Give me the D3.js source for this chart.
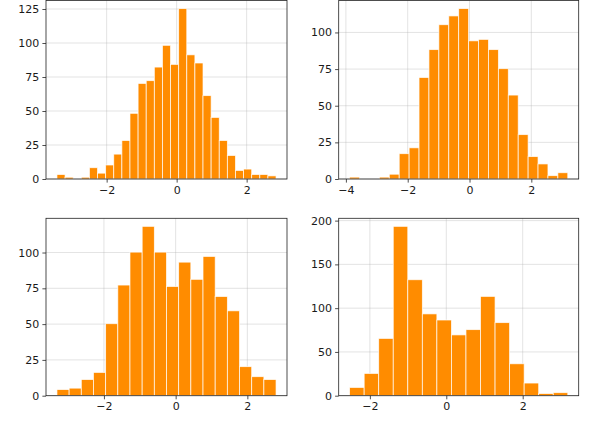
<!DOCTYPE html>
<html>
<head>
<meta charset="utf-8">
<script src="https://cdn.jsdelivr.net/npm/d3@7"></script>
<style>
  body { margin: 0; background: #fff; }
  svg { display: block; }
  text { font-family: "DejaVu Sans", sans-serif; font-size: 11px; fill: #1a1a1a; }
</style>
</head>
<body>
<script>
// histogram counts per panel
var countsA = [3, 1, 0, 1, 8, 4, 10, 18, 28, 48, 70, 72, 82, 98, 84, 125, 91, 85, 61, 45, 28, 17, 6, 7, 3, 3, 2];
var countsB = [1, 0, 0, 1, 3, 17, 21, 69, 88, 105, 111, 116, 94, 95, 88, 75, 57, 30, 15, 10, 2, 4];
var countsC = [4, 5, 11, 16, 50, 77, 100, 118, 100, 76, 93, 81, 97, 69, 59, 20, 13, 11];
var countsD = [9, 25, 65, 193, 132, 93, 86, 69, 75, 113, 83, 36, 14, 2, 3];

// first and last bin edge of each histogram
var rangeA = [-3.42, 2.84];
var rangeB = [-3.88, 3.18];
var rangeC = [-3.31, 2.80];
var rangeD = [-2.53, 3.18];

// tick labels
var xTicksA = [-2, 0, 2];
var xTicksB = [-4, -2, 0, 2];
var xTicksC = [-2, 0, 2];
var xTicksD = [-2, 0, 2];
var yTicksA = [0, 25, 50, 75, 100, 125];
var yTicksB = [0, 25, 50, 75, 100];
var yTicksC = [0, 25, 50, 75, 100];
var yTicksD = [0, 50, 100, 150, 200];

var width = 592;
var height = 423;
var barColor = '#ff8c00';

var svg = d3.select('body').append('svg')
  .attr('width', width)
  .attr('height', height);

var panels = [
  { counts: countsA, range: rangeA, xTicks: xTicksA, yTicks: yTicksA, box: [46, 287, 0.5, 179] },
  { counts: countsB, range: rangeB, xTicks: xTicksB, yTicks: yTicksB, box: [338.7, 578.7, 0.5, 179] },
  { counts: countsC, range: rangeC, xTicks: xTicksC, yTicks: yTicksC, box: [46, 287, 218.3, 395.7] },
  { counts: countsD, range: rangeD, xTicks: xTicksD, yTicks: yTicksD, box: [338.7, 578.7, 218.3, 395.7] }
];

var fmt = d3.format('d');

panels.forEach(function (p) {
  var x0 = p.box[0], x1 = p.box[1], y0 = p.box[2], y1 = p.box[3];
  var n = p.counts.length;
  var step = (p.range[1] - p.range[0]) / n;
  var bins = p.counts.map(function (c, i) {
    return { lo: p.range[0] + i * step, hi: p.range[0] + (i + 1) * step, count: c };
  });

  // matplotlib style 5% margins on x, 5% headroom on y
  var pad = (p.range[1] - p.range[0]) * 0.05;
  var x = d3.scaleLinear()
    .domain([p.range[0] - pad, p.range[1] + pad])
    .range([x0, x1]);
  var y = d3.scaleLinear()
    .domain([0, d3.max(p.counts) * 1.05])
    .range([y1, y0]);

  var g = svg.append('g');

  // grid first so the bars sit over it
  g.selectAll('.gx').data(p.xTicks).enter().append('line')
    .attr('x1', function (d) { return x(d); })
    .attr('x2', function (d) { return x(d); })
    .attr('y1', y0).attr('y2', y1)
    .attr('stroke', '#b0b0b0').attr('stroke-opacity', 0.45).attr('stroke-width', 0.8);
  g.selectAll('.gy').data(p.yTicks).enter().append('line')
    .attr('x1', x0).attr('x2', x1)
    .attr('y1', function (d) { return y(d); })
    .attr('y2', function (d) { return y(d); })
    .attr('stroke', '#b0b0b0').attr('stroke-opacity', 0.45).attr('stroke-width', 0.8);

  g.selectAll('.bar').data(bins.filter(function (b) { return b.count > 0; })).enter().append('rect')
    .attr('x', function (d) { return x(d.lo); })
    .attr('width', function (d) { return x(d.hi) - x(d.lo); })
    .attr('y', function (d) { return y(d.count) - 0.4; })
    .attr('height', function (d) { return y(0) - y(d.count) + 0.4; })
    .attr('fill', barColor)
    .attr('stroke', '#fff')
    .attr('stroke-opacity', 0.85)
    .attr('stroke-width', 0.8);

  var xAxis = d3.axisBottom(x).tickValues(p.xTicks).tickFormat(fmt)
    .tickSize(3.6).tickPadding(3.2);
  var yAxis = d3.axisLeft(y).tickValues(p.yTicks).tickFormat(fmt)
    .tickSize(3.6).tickPadding(3.2);

  var gx = g.append('g').attr('transform', 'translate(0,' + y1 + ')').call(xAxis);
  var gy = g.append('g').attr('transform', 'translate(' + x0 + ',0)').call(yAxis);
  [gx, gy].forEach(function (a) {
    a.select('.domain').remove();
    a.selectAll('.tick line').attr('stroke', '#222').attr('stroke-width', 0.8);
    a.selectAll('text').attr('font-family', null).attr('font-size', null).attr('fill', null);
  });

  // frame
  g.append('rect')
    .attr('x', x0).attr('y', y0)
    .attr('width', x1 - x0).attr('height', y1 - y0)
    .attr('fill', 'none')
    .attr('stroke', '#222')
    .attr('stroke-width', 0.8);
});
</script>
</body>
</html>
